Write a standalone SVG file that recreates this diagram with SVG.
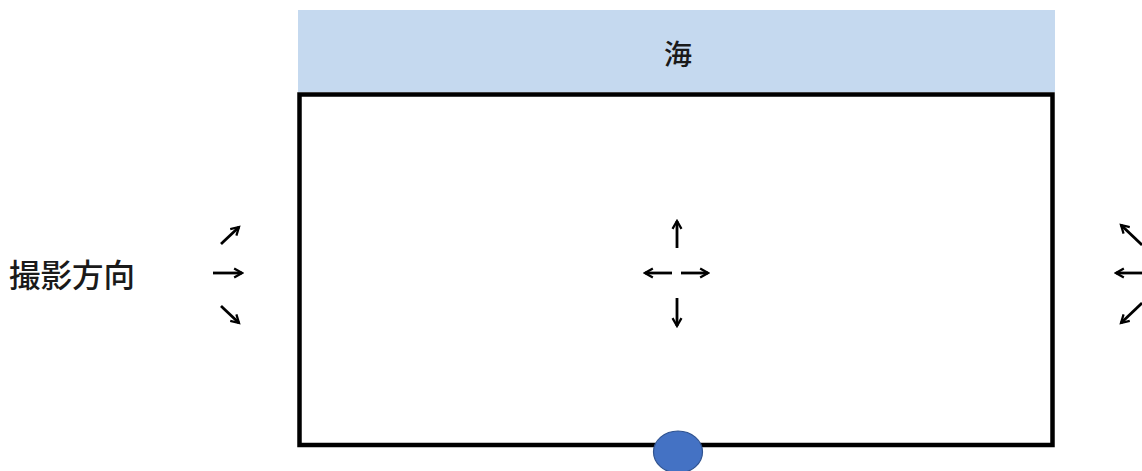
<svg xmlns="http://www.w3.org/2000/svg" width="1142" height="471" viewBox="0 0 1142 471">
  <style>
    .label { font-family: "Noto Sans CJK JP", "Noto Sans CJK SC", sans-serif; fill: #1a1a1a; font-weight: 500; }
    .arrow { stroke: #000; stroke-width: 2.8; fill: none; marker-end: url(#head); }
  </style>
  <defs>
    <marker id="head" viewBox="0 0 10 10" refX="8" refY="5" markerWidth="4" markerHeight="4" orient="auto" markerUnits="strokeWidth">
      <path d="M1,1 L8,5 L1,9" fill="none" stroke="#000" stroke-width="2" stroke-linejoin="miter"/>
    </marker>
  </defs>

  <rect width="1142" height="471" fill="#fff"/>

  <g id="sea">
    <rect x="298" y="10" width="757" height="82" fill="#c5d9ef"/>
    <text class="label" x="678" y="65" font-size="28" text-anchor="middle">海</text>
  </g>

  <g id="site">
    <rect x="299.5" y="94.5" width="753" height="350.5" fill="none" stroke="#000" stroke-width="4.5"/>
  </g>

  <g id="camera">
    <ellipse cx="678" cy="452" rx="24.5" ry="21" fill="#4472c4" stroke="#2f528f" stroke-width="1.2"/>
  </g>

  <g id="direction-label">
    <text class="label" x="9" y="287" font-size="31.5">撮影方向</text>
  </g>

  <g id="connectors">
    <!-- left group -->
    <line class="arrow" x1="221" y1="244" x2="239" y2="227"/>
    <line class="arrow" x1="213" y1="273" x2="242" y2="273"/>
    <line class="arrow" x1="221" y1="306" x2="239" y2="323"/>
    <!-- centre group -->
    <line class="arrow" x1="677" y1="248" x2="677" y2="221"/>
    <line class="arrow" x1="672" y1="273" x2="645" y2="273"/>
    <line class="arrow" x1="681" y1="273" x2="708" y2="273"/>
    <line class="arrow" x1="677" y1="298" x2="677" y2="326"/>
    <!-- right group -->
    <line class="arrow" x1="1142" y1="245" x2="1121" y2="225"/>
    <line class="arrow" x1="1142" y1="273" x2="1116" y2="273"/>
    <line class="arrow" x1="1142" y1="303" x2="1121" y2="323"/>
  </g>
</svg>
